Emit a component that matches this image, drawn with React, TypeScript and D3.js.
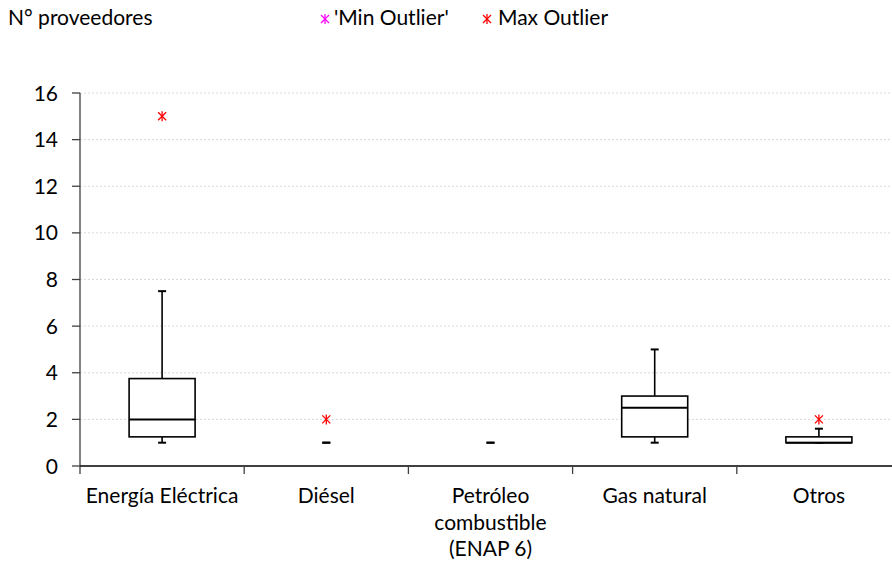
import React from "react";
import * as d3 from "d3";

const categories = ["Energía Eléctrica", "Diésel", "Petróleo combustible (ENAP 6)", "Gas natural", "Otros"];
const categoryLines = [["Energía Eléctrica"], ["Diésel"], ["Petróleo", "combustible", "(ENAP 6)"], ["Gas natural"], ["Otros"]];
const whiskerLow = [1, 1, 1, 1, 1];
const q1 = [1.25, 1, 1, 1.25, 1];
const median = [2, 1, 1, 2.5, 1];
const q3 = [3.75, 1, 1, 3, 1.25];
const whiskerHigh = [7.5, 1, 1, 5, 1.6];
const maxOutliers: (number | null)[] = [15, 2, null, null, 2];
const minOutliers: (number | null)[] = [null, null, null, null, null];
const yTicks = [0, 2, 4, 6, 8, 10, 12, 14, 16];

const W = 892, H = 564;
const FONT = "Lato, 'Open Sans', sans-serif";
const FS = 21;

function Star({ x, y, color }: { x: number; y: number; color: string }) {
  const r = 4;
  return (
    <g stroke={color} strokeWidth={1.3}>
      <line x1={x - r} y1={y - r} x2={x + r} y2={y + r} />
      <line x1={x - r} y1={y + r} x2={x + r} y2={y - r} />
      <line x1={x} y1={y - r - 1} x2={x} y2={y + r + 1} />
    </g>
  );
}

export default function App() {
  const x = d3.scaleBand<string>().domain(categories).range([80, 80 + 5 * 164.2]).padding(0);
  const y = d3.scaleLinear().domain([0, 16]).range([466, 93]);
  const boxW = 66;
  const capW = 8;
  return (
    <svg width={W} height={H} style={{ position: "absolute", left: 0, top: 0, fontFamily: FONT }}>
      <rect width={W} height={H} fill="white" />
      {yTicks.filter((t) => t > 0).map((t) => (
        <line key={t} x1={80} x2={W} y1={y(t)} y2={y(t)} stroke="#d9d9d9" strokeWidth={1} strokeDasharray="2,2" />
      ))}
      <line x1={80} x2={80} y1={y(16)} y2={y(0)} stroke="#404040" strokeWidth={1.3} />
      {yTicks.map((t) => (
        <g key={t}>
          <line x1={72} x2={80} y1={y(t)} y2={y(t)} stroke="#404040" strokeWidth={1.3} />
          <text x={58} y={y(t)} dy="0.36em" textAnchor="end" fontSize={FS} fill="#000">{t}</text>
        </g>
      ))}
      <line x1={80} x2={W} y1={y(0)} y2={y(0)} stroke="#000" strokeWidth={1.5} />
      {categories.map((c) => (
        <line key={c} x1={x(c)!} x2={x(c)!} y1={y(0)} y2={y(0) + 8} stroke="#404040" strokeWidth={1.3} />
      ))}
      {categories.map((c, i) => {
        const cx = x(c)! + x.bandwidth() / 2;
        return (
          <g key={c} stroke="#000" strokeWidth={1.6} fill="none">
            <line x1={cx} x2={cx} y1={y(q3[i])} y2={y(whiskerHigh[i])} />
            <line x1={cx} x2={cx} y1={y(q1[i])} y2={y(whiskerLow[i])} />
            <line x1={cx - capW / 2} x2={cx + capW / 2} y1={y(whiskerHigh[i])} y2={y(whiskerHigh[i])} strokeWidth={2} />
            <line x1={cx - capW / 2} x2={cx + capW / 2} y1={y(whiskerLow[i])} y2={y(whiskerLow[i])} strokeWidth={2} />
            {q3[i] > q1[i] && (
              <rect x={cx - boxW / 2} y={y(q3[i])} width={boxW} height={y(q1[i]) - y(q3[i])} fill="white" />
            )}
            {q3[i] > q1[i] && (
              <line x1={cx - boxW / 2} x2={cx + boxW / 2} y1={y(median[i])} y2={y(median[i])} strokeWidth={2} />
            )}
            {maxOutliers[i] !== null && <Star x={cx} y={y(maxOutliers[i]!)} color="#ff0000" />}
            {minOutliers[i] !== null && <Star x={cx} y={y(minOutliers[i]!)} color="#ff00ff" />}
          </g>
        );
      })}
      {categories.map((c, i) => {
        const cx = x(c)! + x.bandwidth() / 2;
        return (
          <text key={c} x={cx} y={503} textAnchor="middle" fontSize={FS} fill="#000">
            {categoryLines[i].map((l, j) => (
              <tspan key={j} x={cx} dy={j === 0 ? 0 : 26.5}>{l}</tspan>
            ))}
          </text>
        );
      })}
      <text x={8} y={25} fontSize={FS} fill="#000">N° proveedores</text>
      <Star x={325} y={19} color="#ff00ff" />
      <text x={334} y={25} fontSize={FS} fill="#000">'Min Outlier'</text>
      <Star x={487} y={19} color="#ff0000" />
      <text x={498} y={25} fontSize={FS} fill="#000">Max Outlier</text>
    </svg>
  );
}
